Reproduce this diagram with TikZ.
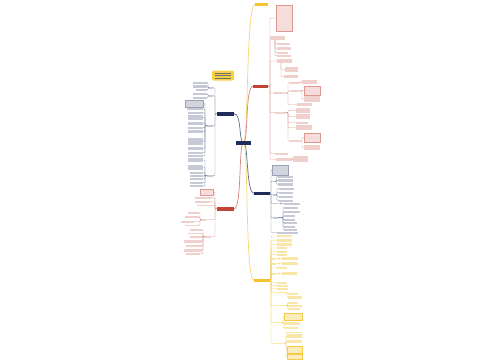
\documentclass[tikz,border=0pt]{standalone}
\usetikzlibrary{backgrounds}
\definecolor{navc}{HTML}{1F2B5B}
\definecolor{redc}{HTML}{C24434}
\definecolor{yelc}{HTML}{F4C430}
\definecolor{ybox}{HTML}{F7CF45}
\tikzset{
  base/.style={anchor=north west, inner sep=0, outer sep=0},
  lfR/.style={base, fill=redc!25},
  lfN/.style={base, fill=navc!25},
  lfY/.style={base, fill=yelc!42},
  bkR/.style={base, fill=redc!18, draw=redc!55, line width=0.3pt},
  bkN/.style={base, fill=navc!20, draw=navc!45, line width=0.3pt},
  bkY/.style={base, fill=yelc!32, draw=yelc!90, line width=0.3pt},
  mR/.style={base, fill=redc},
  mN/.style={base, fill=navc},
  mY/.style={base, fill=yelc},
  lnR/.style={draw=redc!55, line width=0.35pt, rounded corners=0.8pt},
  lnN/.style={draw=navc!55, line width=0.35pt, rounded corners=0.8pt},
  lnY/.style={draw=yelc!85, line width=0.35pt, rounded corners=0.8pt},
  cvR/.style={draw=redc!65, line width=0.7pt},
  cvN/.style={draw=navc!70, line width=0.7pt},
  cvY/.style={draw=yelc!70, line width=0.7pt},
}
\newcommand\nd[6]{\node[#6, minimum width=#4pt, minimum height=#5pt] (#1) at (#2,#3) {};}
\newcommand\cnR[4]{\draw[#4] (#1.east) -| ([xshift=-#3pt]#2.west) -- (#2.west);}
\newcommand\cnL[4]{\draw[#4] (#1.west) -| ([xshift=#3pt]#2.east) -- (#2.east);}
\newcommand\cnS[4]{\draw[#4] ([xshift=#3pt]#1.south west) |- (#2.west);}
\begin{document}
\begin{tikzpicture}[x=1pt,y=-1pt]
\useasboundingbox (0,0) rectangle (500,360);
% main nodes
\nd{c}{236}{140.5}{15}{4}{mN}
\nd{ty}{255}{2.5}{13}{3}{mY}
\nd{rn}{253}{84.5}{15}{3.5}{mR}
\nd{nl}{217}{112}{17}{3.5}{mN}
\nd{rl}{217}{207}{17}{3.5}{mR}
\nd{nr}{254}{191.5}{16}{3.5}{mN}
\nd{yn}{254}{278.5}{16}{3.5}{mY}
\node[base, fill=ybox, rounded corners=2pt, minimum width=22pt, minimum height=10pt,
  path picture={\foreach \k in {1,2,3}{\draw[black!55, line width=0.6pt]
  ([shift={(3pt,-\k*2.6pt)}]path picture bounding box.north west) -- ++(16pt,0);}}]
  (yb) at (212,70.5) {};
% ---------- red right ----------
\nd{r1}{276}{5}{16}{26}{bkR}
\nd{r2}{271}{35.5}{14}{4}{lfR}
\nd{r3}{277}{42.5}{13}{2}{lfR}
\nd{r4}{277}{46.5}{14}{3.5}{lfR}
\nd{r5}{277}{51.5}{11}{2}{lfR}
\nd{r6}{277}{54.5}{14}{2}{lfR}
\nd{r7}{277}{59}{15}{4}{lfR}
\nd{r8}{285}{67}{13}{5}{lfR}
\nd{r9}{284}{75}{14}{3}{lfR}
\nd{r10}{274}{92}{8}{2}{lfR}
\nd{r11}{290}{81.5}{9}{2}{lfR}
\nd{r12}{302}{80}{15}{4}{lfR}
\nd{r13}{290}{90}{10}{2}{lfR}
\nd{r14a}{304}{86}{16}{9}{bkR}
\nd{r14b}{304}{96}{16}{6}{lfR}
\nd{r14}{297}{103}{15}{3}{lfR}
\nd{r15}{275}{111.5}{10}{2}{lfR}
\nd{r16}{296}{108}{14}{5}{lfR}
\nd{r17}{296}{114}{14}{5}{lfR}
\nd{r18}{296}{121.5}{12}{2}{lfR}
\nd{r19}{296}{125}{16}{5}{lfR}
\nd{r20}{290}{140}{10}{2}{lfR}
\nd{r21}{304}{133}{16}{9}{bkR}
\nd{r22}{304}{145}{16}{5}{lfR}
\nd{r23}{275}{152.5}{13}{2}{lfR}
\nd{r24}{276}{158}{16}{2.5}{lfR}
\nd{r25}{293}{156}{15}{6}{lfR}
\cnR{rn}{r1}{6}{lnR}
\cnR{rn}{r2}{1}{lnR}
\cnS{r2}{r3}{4}{lnR}\cnS{r2}{r4}{4}{lnR}\cnS{r2}{r5}{4}{lnR}\cnS{r2}{r6}{4}{lnR}
\cnR{rn}{r7}{7}{lnR}
\cnS{r7}{r8}{4}{lnR}\cnS{r7}{r9}{4}{lnR}
\cnR{rn}{r10}{4}{lnR}
\cnR{r10}{r11}{2}{lnR}\cnR{r10}{r13}{2}{lnR}\cnR{r10}{r14}{9}{lnR}
\cnR{r11}{r12}{1.5}{lnR}
\cnR{r13}{r14a}{2}{lnR}\cnR{r13}{r14b}{2}{lnR}
\cnR{rn}{r15}{5}{lnR}
\cnR{r15}{r16}{8}{lnR}\cnR{r15}{r17}{8}{lnR}\cnR{r15}{r18}{8}{lnR}\cnR{r15}{r19}{8}{lnR}\cnR{r15}{r20}{2}{lnR}
\cnR{r20}{r21}{2}{lnR}\cnR{r20}{r22}{2}{lnR}
\cnR{rn}{r23}{5}{lnR}
\cnR{rn}{r24}{6}{lnR}
\cnR{r24}{r25}{1}{lnR}
% ---------- navy right ----------
\nd{n1}{272}{165}{16}{10}{bkN}
\nd{n2}{273}{180.5}{3}{1.5}{lfN}
\nd{n3}{278}{175.5}{15}{2}{lfN}
\nd{n4}{278}{179}{15}{2.5}{lfN}
\nd{n5}{278}{183}{15}{2.5}{lfN}
\nd{n6}{273}{194}{3}{1.5}{lfN}
\nd{n7}{279}{187.5}{15}{2}{lfN}
\nd{n8}{279}{191.5}{14}{2}{lfN}
\nd{n9}{279}{195.5}{14}{2}{lfN}
\nd{n10}{279}{199.5}{14}{2}{lfN}
\nd{n11}{273}{202.5}{4}{1.5}{lfN}
\nd{n12}{284}{202.5}{16}{2.5}{lfN}
\nd{n13}{273}{217}{5}{1.5}{lfN}
\nd{n14}{284}{206.5}{14}{2}{lfN}
\nd{n15}{284}{210.5}{16}{2.5}{lfN}
\nd{n16}{284}{215}{11}{2}{lfN}
\nd{n17}{284}{218.5}{11}{2}{lfN}
\nd{n18}{284}{222}{13}{2}{lfN}
\nd{n19}{284}{225.5}{11}{2}{lfN}
\nd{n20}{284}{228.5}{13}{2}{lfN}
\nd{n21}{277}{231.5}{21}{2}{lfN}
\cnR{nr}{n1}{1}{lnN}
\cnR{nr}{n2}{2}{lnN}\cnR{n2}{n3}{1.5}{lnN}\cnR{n2}{n4}{1.5}{lnN}\cnR{n2}{n5}{1.5}{lnN}
\cnR{nr}{n6}{2}{lnN}\cnR{n6}{n7}{2}{lnN}\cnR{n6}{n8}{2}{lnN}\cnR{n6}{n9}{2}{lnN}\cnR{n6}{n10}{2}{lnN}
\cnR{nr}{n11}{2}{lnN}\cnR{n11}{n12}{3}{lnN}
\cnR{nr}{n13}{2}{lnN}
\cnR{n13}{n14}{1}{lnN}\cnR{n13}{n15}{1}{lnN}\cnR{n13}{n16}{1}{lnN}\cnR{n13}{n17}{1}{lnN}
\cnR{n13}{n18}{1}{lnN}\cnR{n13}{n19}{1}{lnN}\cnR{n13}{n20}{1}{lnN}
\cnR{nr}{n21}{6}{lnN}
% ---------- yellow bottom ----------
\nd{y1}{277}{235}{15}{2}{lfY}
\nd{y2}{277}{239}{15}{3}{lfY}
\nd{y3}{277}{243}{15}{3}{lfY}
\nd{y4}{277}{247}{10}{2}{lfY}
\nd{y5}{277}{250.5}{10}{2}{lfY}
\nd{y6}{277}{253.5}{10}{2}{lfY}
\nd{y7}{272}{258}{4}{1.5}{lfY}
\nd{y8}{282}{257}{16}{3}{lfY}
\nd{y9}{272}{263}{4}{1.5}{lfY}
\nd{y10}{282}{262}{16}{3}{lfY}
\nd{y11}{277}{267}{10}{2}{lfY}
\nd{y12}{272}{273}{4}{1.5}{lfY}
\nd{y13}{282}{272}{15}{3}{lfY}
\nd{y14}{277}{281.5}{10}{2}{lfY}
\nd{y15}{277}{284.5}{11}{2}{lfY}
\nd{y16}{277}{287.5}{11}{2}{lfY}
\nd{y18}{276}{291.5}{9}{1.5}{lfY}
\nd{y19}{288}{293}{10}{2}{lfY}
\nd{y20}{288}{296}{14}{2.5}{lfY}
\nd{y21}{280}{304.5}{7}{1.5}{lfY}
\nd{y22}{288}{302}{10}{1.5}{lfY}
\nd{y23}{288}{305}{14}{2}{lfY}
\nd{y24}{288}{308}{12}{2}{lfY}
\nd{y25}{276}{321.5}{6}{1.5}{lfY}
\nd{y26}{284}{313}{18}{7}{bkY}
\nd{y27}{284}{322}{16}{3}{lfY}
\nd{y28}{284}{327}{14}{2}{lfY}
\nd{y29}{276}{342.5}{9}{1.5}{lfY}
\nd{y30}{287}{331.5}{15}{1.5}{lfY}
\nd{y31}{287}{334}{15}{4}{lfY}
\nd{y32}{287}{340}{15}{3}{lfY}
\nd{y33}{287}{346}{15}{7}{bkY}
\nd{y34}{287}{354}{15}{5.5}{bkY}
\foreach \k in {1,2,3,4,5,6,11,14,15,16}{\cnR{yn}{y\k}{6}{lnY}}
\cnR{yn}{y7}{1}{lnY}\cnR{y7}{y8}{3}{lnY}
\cnR{yn}{y9}{1}{lnY}\cnR{y9}{y10}{3}{lnY}
\cnR{yn}{y12}{1}{lnY}\cnR{y12}{y13}{3}{lnY}
\cnR{yn}{y18}{5}{lnY}\cnR{y18}{y19}{1}{lnY}\cnR{y18}{y20}{1}{lnY}
\cnR{yn}{y21}{9}{lnY}\cnR{y21}{y22}{0.5}{lnY}\cnR{y21}{y23}{0.5}{lnY}\cnR{y21}{y24}{0.5}{lnY}
\cnR{yn}{y25}{5}{lnY}\cnR{y25}{y26}{1}{lnY}\cnR{y25}{y27}{1}{lnY}\cnR{y25}{y28}{1}{lnY}
\cnR{yn}{y29}{5}{lnY}
\foreach \k in {30,31,32,33,34}{\cnR{y29}{y\k}{1}{lnY}}
% ---------- navy left ----------
\nd{la}{209}{87}{4}{1.5}{lfN}
\nd{l1}{193}{81.5}{14}{2}{lfN}
\nd{l2}{193}{85}{14}{2.5}{lfN}
\nd{l3}{196}{89}{11}{2}{lfN}
\nd{lb}{209}{95}{4}{1.5}{lfN}
\nd{l4}{193}{93}{14}{2}{lfN}
\nd{l5}{193}{96.5}{14}{2}{lfN}
\nd{lc}{207}{125}{6}{1.5}{lfN}
\nd{l6}{185}{100}{18}{7}{bkN}
\nd{l7}{187}{108}{16}{2}{lfN}
\nd{l8}{188}{112}{15}{1.5}{lfN}
\nd{l9}{188}{115}{15}{5}{lfN}
\nd{l10}{188}{122}{15}{3}{lfN}
\nd{l11}{188}{127}{15}{1.5}{lfN}
\nd{l12}{188}{130}{15}{3}{lfN}
\nd{l13}{188}{138}{15}{7}{lfN}
\nd{l14}{188}{147}{15}{3}{lfN}
\nd{l15}{188}{152}{15}{1.5}{lfN}
\nd{l16}{188}{155}{15}{2}{lfN}
\nd{ld}{207}{175}{6}{1.5}{lfN}
\nd{l17}{188}{158}{15}{4}{lfN}
\nd{l18}{188}{165}{15}{5}{lfN}
\nd{l19}{190}{172}{13}{1.5}{lfN}
\nd{l20}{190}{175}{13}{2}{lfN}
\nd{l21}{190}{178}{13}{2}{lfN}
\nd{l22}{190}{182}{13}{1.5}{lfN}
\nd{l23}{190}{185}{13}{2}{lfN}
\cnL{nl}{la}{2}{lnN}\cnL{nl}{lb}{2}{lnN}
\cnL{la}{l1}{1}{lnN}\cnL{la}{l2}{1}{lnN}\cnL{la}{l3}{1}{lnN}
\cnL{lb}{l4}{1}{lnN}\cnL{lb}{l5}{1}{lnN}
\cnL{nl}{lc}{2}{lnN}\cnL{nl}{ld}{2}{lnN}
\foreach \k in {6,7,...,16}{\cnL{lc}{l\k}{2}{lnN}}
\foreach \k in {17,18,...,23}{\cnL{ld}{l\k}{2}{lnN}}
% ---------- red left ----------
\nd{m1}{200}{189}{13}{6}{bkR}
\nd{m2}{195}{197}{17}{1.5}{lfR}
\nd{m3}{195}{201}{15}{1.5}{lfR}
\nd{m4}{197}{204.5}{13}{1.5}{lfR}
\nd{mf}{201}{219}{5}{1.5}{lfR}
\nd{m5}{188}{212}{11}{1.5}{lfR}
\nd{m6}{185}{216}{14}{1.5}{lfR}
\nd{m7}{181}{221}{13}{1.5}{lfR}
\nd{m8}{185}{224.5}{14}{1.5}{lfR}
\nd{mg}{205}{236}{6}{1.5}{lfR}
\nd{m9}{190}{229}{12}{1.5}{lfR}
\nd{m10}{188}{232.5}{14}{1.5}{lfR}
\nd{m11}{190}{236}{12}{1.5}{lfR}
\nd{m12}{184}{240}{18}{2.5}{lfR}
\nd{m13}{186}{245}{16}{1.5}{lfR}
\nd{m14}{184}{248.5}{18}{3}{lfR}
\nd{m15}{186}{253}{14}{1.5}{lfR}
\cnL{rl}{m1}{2}{lnR}\cnL{rl}{m2}{3}{lnR}\cnL{rl}{m3}{5}{lnR}\cnL{rl}{m4}{5}{lnR}
\cnL{rl}{mf}{9}{lnR}\cnL{rl}{mg}{4}{lnR}
\cnL{mf}{m5}{1}{lnR}\cnL{mf}{m6}{1}{lnR}\cnL{mf}{m7}{6}{lnR}\cnL{mf}{m8}{1}{lnR}
\foreach \k in {9,10,...,14}{\cnL{mg}{m\k}{1}{lnR}}
\cnL{mg}{m15}{3}{lnR}
% ---------- main curves ----------
\begin{scope}[on background layer]
\fill[white] (0,0) rectangle (500,360);
\draw[cvY] (c.center) .. controls ([xshift=5pt]c.center) and ([xshift=-9pt]ty.west) .. (ty.west);
\draw[cvR] (c.center) .. controls ([xshift=5pt]c.center) and ([xshift=-8pt]rn.west) .. (rn.west);
\draw[cvN] (c.center) .. controls ([xshift=5pt]c.center) and ([xshift=-8pt]nr.west) .. (nr.west);
\draw[cvY] (c.center) .. controls ([xshift=5pt]c.center) and ([xshift=-9pt]yn.west) .. (yn.west);
\draw[cvN] (c.center) .. controls ([xshift=-5pt]c.center) and ([xshift=8pt]nl.east) .. (nl.east);
\draw[cvR] (c.center) .. controls ([xshift=-5pt]c.center) and ([xshift=8pt]rl.east) .. (rl.east);
\end{scope}
\end{tikzpicture}
\end{document}
